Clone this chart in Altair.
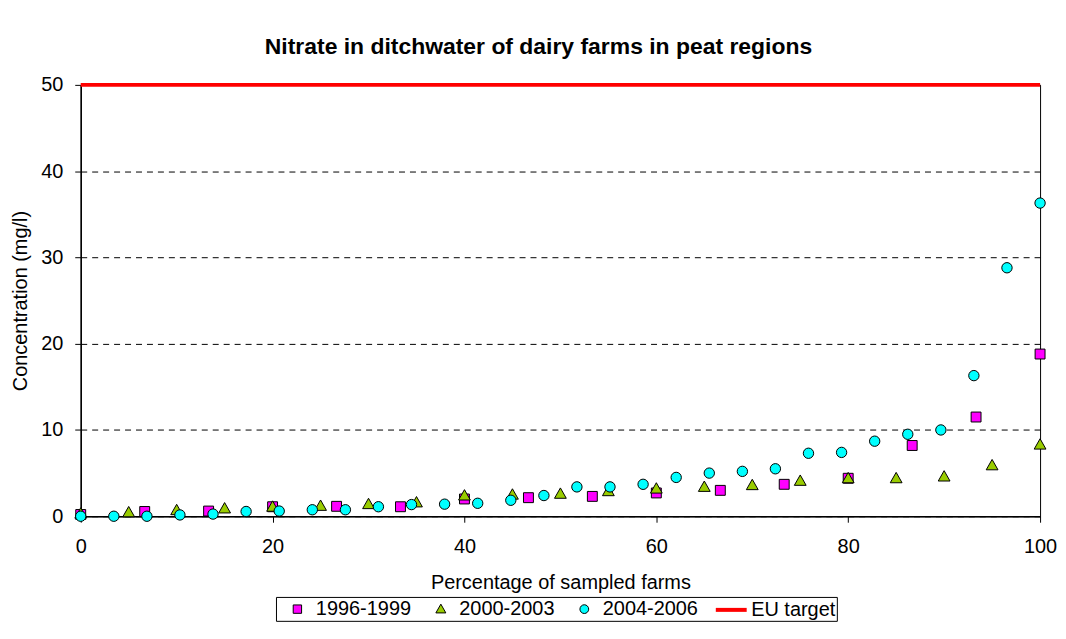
import altair as alt
import pandas as pd

# ---- data ----
x_1996 = [0, 6.67, 13.33, 20, 26.67, 33.33, 40, 46.67, 53.33, 60, 66.67, 73.33, 80, 86.67, 93.33, 100]
y_1996 = [0.2, 0.55, 0.6, 1.1, 1.15, 1.1, 2.0, 2.15, 2.3, 2.7, 3.0, 3.7, 4.4, 8.2, 11.5, 18.8]

x_2000 = [0, 5, 10, 15, 20, 25, 30, 35, 40, 45, 50, 55, 60, 65, 70, 75, 80, 85, 90, 95, 100]
y_2000 = [0.3, 0.45, 0.7, 0.9, 1.1, 1.2, 1.4, 1.6, 2.4, 2.5, 2.6, 2.9, 3.2, 3.4, 3.6, 4.1, 4.4, 4.4, 4.6, 5.9, 8.3]

x_2004 = [0, 3.45, 6.9, 10.34, 13.79, 17.24, 20.69, 24.14, 27.59, 31.03, 34.48, 37.93, 41.38, 44.83,
          48.28, 51.72, 55.17, 58.62, 62.07, 65.52, 68.97, 72.41, 75.86, 79.31, 82.76, 86.21, 89.66,
          93.1, 96.55, 100]
y_2004 = [0, 0, 0, 0.15, 0.25, 0.55, 0.6, 0.75, 0.75, 1.1, 1.35, 1.4, 1.5, 1.85, 2.4, 3.4, 3.4, 3.7,
          4.5, 5.0, 5.2, 5.5, 7.3, 7.4, 8.7, 9.5, 10.0, 16.3, 28.8, 36.3]

eu_target = [50]

series_names = ["1996-1999", "2000-2003", "2004-2006", "EU target"]

rows = []
for name, xs, ys in [(series_names[0], x_1996, y_1996),
                     (series_names[1], x_2000, y_2000),
                     (series_names[2], x_2004, y_2004)]:
    for xv, yv in zip(xs, ys):
        rows.append({"pct": xv, "conc": yv, "series": name})
points_df = pd.DataFrame(rows)
rule_df = pd.DataFrame({"conc": eu_target, "series": [series_names[3]]})

FONT = "Liberation Sans"

# custom unit-box symbol paths (scaled by sqrt(size)/2)
SQUARE = "M-0.42,-0.42H0.42V0.42H-0.42Z"
TRIANGLE = "M0,-0.5L0.5,0.38H-0.5Z"
CIRCLE = "M-0.44,0A0.44,0.44 0 1,0 0.44,0A0.44,0.44 0 1,0 -0.44,0Z"
LINE = "M-1.55,0H1.55"

fill_scale = alt.Scale(domain=series_names, range=["#FF00FF", "#99CC00", "#00FFFF", "#FF0000"])
stroke_scale = alt.Scale(domain=series_names, range=["#000000", "#000000", "#000000", "#FF0000"])
shape_scale = alt.Scale(domain=series_names, range=[SQUARE, TRIANGLE, CIRCLE, LINE])
sw_scale = alt.Scale(type="ordinal", domain=series_names, range=[1, 1, 1, 4])

legend = alt.Legend(
    title=None, orient="none", direction="horizontal",
    legendX=196, legendY=514,
    strokeColor="black", padding=1,
    symbolSize=400, symbolOffset=10, labelOffset=8, columnPadding=9,
    labelFont=FONT, labelFontSize=20, labelColor="black",
)

x_enc = alt.X("pct:Q", title="Percentage of sampled farms",
              scale=alt.Scale(domain=[0, 100], nice=False),
              axis=alt.Axis(values=[0, 20, 40, 60, 80, 100], grid=False, labelFlush=False))
y_enc = alt.Y("conc:Q", title="Concentration (mg/l)",
              scale=alt.Scale(domain=[0, 50], nice=False),
              axis=alt.Axis(values=[0, 10, 20, 30, 40, 50], grid=True, labelFlush=False,
                            gridDash=[6, 5], gridColor="black", gridWidth=1))

points = alt.Chart(points_df).mark_point(filled=True, size=560, opacity=1).encode(
    x=x_enc,
    y=y_enc,
    shape=alt.Shape("series:N", scale=shape_scale, legend=legend),
    fill=alt.Fill("series:N", scale=fill_scale, legend=legend),
    stroke=alt.Stroke("series:N", scale=stroke_scale, legend=legend),
    strokeWidth=alt.StrokeWidth("series:O", scale=sw_scale, legend=legend),
)

rule = alt.Chart(rule_df).mark_rule(strokeWidth=4).encode(
    y=alt.Y("conc:Q"),
    stroke=alt.Stroke("series:N", scale=stroke_scale, legend=legend),
    strokeWidth=alt.StrokeWidth("series:O", scale=sw_scale, legend=legend),
)

chart = alt.layer(rule, points).properties(
    width=963, height=433,
    background="white",
    autosize=alt.AutoSizeParams(type="none"),
    padding={"left": 73, "top": 76, "right": 18, "bottom": 105},
    title=alt.TitleParams("Nitrate in ditchwater of dairy farms in peat regions",
                          font=FONT, fontSize=23, fontWeight="bold", color="black",
                          anchor="middle", offset=16, dx=-22),
).configure_view(
    stroke="black", strokeWidth=1
).configure_axis(
    domainColor="black", domainWidth=1.5, tickColor="black", tickSize=6,
    labelFont=FONT, labelFontSize=20, labelColor="black",
    titleFont=FONT, titleFontSize=20, titleColor="black", titleFontWeight="normal",
).configure_axisX(
    labelPadding=14, titlePadding=17,
).configure_axisY(
    labelPadding=12, titlePadding=10,
)

chart.save("out.html", embed_options={"renderer": "svg", "actions": False})
